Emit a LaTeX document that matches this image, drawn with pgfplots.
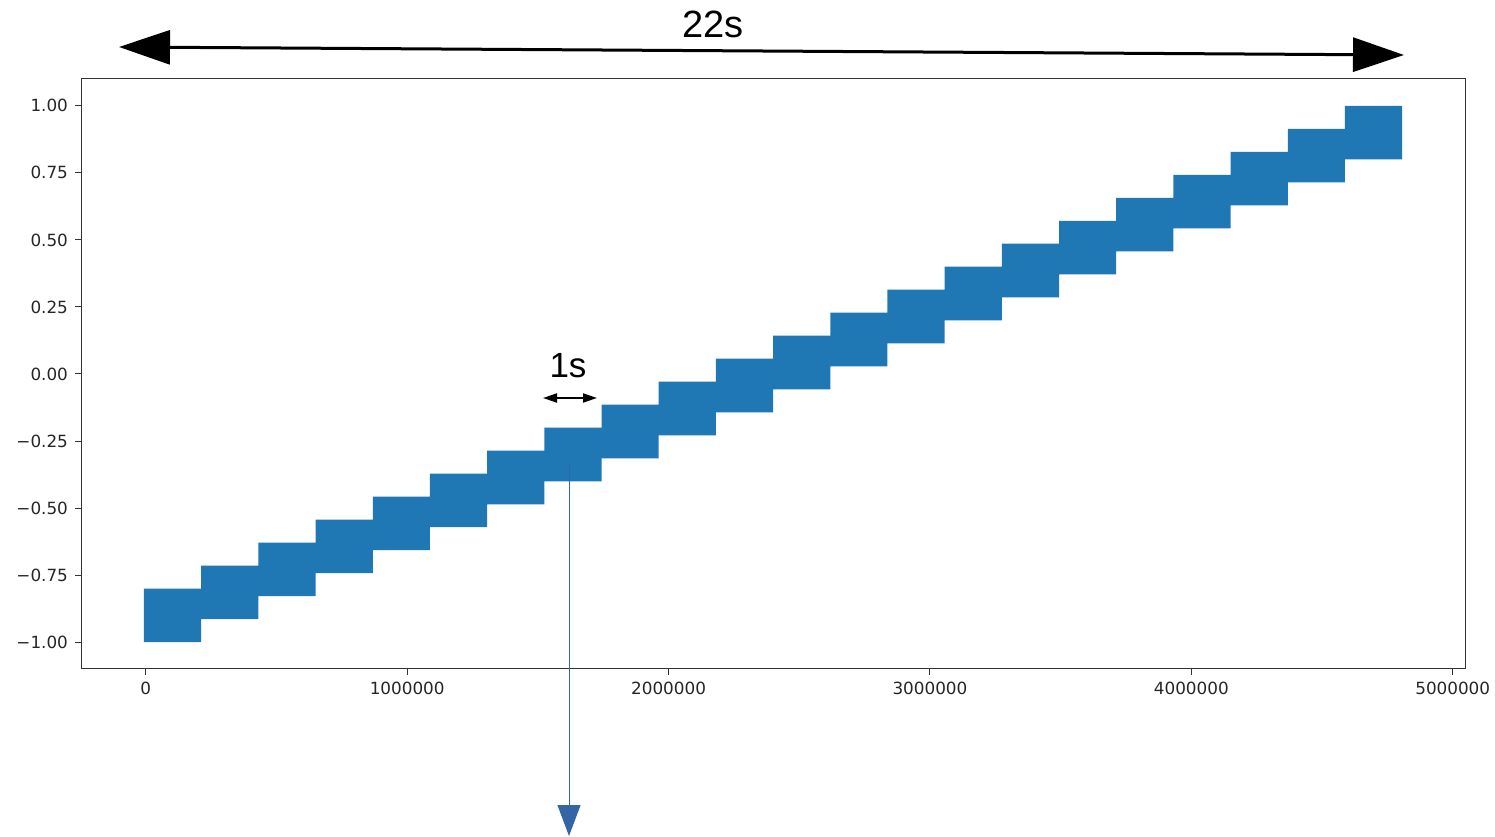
\documentclass[border=0pt]{standalone}
\usepackage{pgfplots}
\pgfplotsset{compat=1.18}
\usepackage{fontspec}
\setmainfont{DejaVu Sans}
\newfontfamily\arialf{Liberation Sans}
\usetikzlibrary{arrows.meta}
\definecolor{mplblue}{HTML}{1F77B4}
\definecolor{annblue}{RGB}{52,101,164}
\begin{document}
\begin{tikzpicture}
\useasboundingbox (0,0) rectangle (747.5pt,418pt);
\begin{axis}[
  at={(40.5pt,83.5pt)}, anchor=south west,
  scale only axis, width=692pt, height=295pt,
  xmin=-248000, xmax=5047000, ymin=-1.1, ymax=1.1,
  scaled x ticks=false,
  xtick={0,1000000,2000000,3000000,4000000,5000000},
  xticklabels={0,1000000,2000000,3000000,4000000,5000000},
  ytick={-1,-0.75,-0.5,-0.25,0,0.25,0.5,0.75,1},
  yticklabels={−1.00,−0.75,−0.50,−0.25,0.00,0.25,0.50,0.75,1.00},
  tick align=outside, tick pos=left,
  major tick length=3pt,
  every tick/.style={black!80, line width=0.5pt},
  axis line style={black!80, line width=0.5pt},
  ticklabel style={font=\fontsize{8.4}{10}\selectfont, text=black!85},
  xticklabel style={yshift=0pt},
  yticklabel style={xshift=0pt},
  clip=false,
]
\addplot[fill=mplblue, draw=none] coordinates {
(-7000,-0.8000) (211800,-0.8000)
(211800,-0.7143) (430600,-0.7143)
(430600,-0.6286) (649400,-0.6286)
(649400,-0.5429) (868200,-0.5429)
(868200,-0.4571) (1087000,-0.4571)
(1087000,-0.3714) (1305800,-0.3714)
(1305800,-0.2857) (1524600,-0.2857)
(1524600,-0.2000) (1743400,-0.2000)
(1743400,-0.1143) (1962200,-0.1143)
(1962200,-0.0286) (2181000,-0.0286)
(2181000,0.0571) (2399800,0.0571)
(2399800,0.1429) (2618600,0.1429)
(2618600,0.2286) (2837400,0.2286)
(2837400,0.3143) (3056200,0.3143)
(3056200,0.4000) (3275000,0.4000)
(3275000,0.4857) (3493800,0.4857)
(3493800,0.5714) (3712600,0.5714)
(3712600,0.6571) (3931400,0.6571)
(3931400,0.7429) (4150200,0.7429)
(4150200,0.8286) (4369000,0.8286)
(4369000,0.9143) (4587800,0.9143)
(4587800,1.0000) (4806600,1.0000)
(4806600,0.8000) (4587800,0.8000)
(4587800,0.7143) (4369000,0.7143)
(4369000,0.6286) (4150200,0.6286)
(4150200,0.5429) (3931400,0.5429)
(3931400,0.4571) (3712600,0.4571)
(3712600,0.3714) (3493800,0.3714)
(3493800,0.2857) (3275000,0.2857)
(3275000,0.2000) (3056200,0.2000)
(3056200,0.1143) (2837400,0.1143)
(2837400,0.0286) (2618600,0.0286)
(2618600,-0.0571) (2399800,-0.0571)
(2399800,-0.1429) (2181000,-0.1429)
(2181000,-0.2286) (1962200,-0.2286)
(1962200,-0.3143) (1743400,-0.3143)
(1743400,-0.4000) (1524600,-0.4000)
(1524600,-0.4857) (1305800,-0.4857)
(1305800,-0.5714) (1087000,-0.5714)
(1087000,-0.6571) (868200,-0.6571)
(868200,-0.7429) (649400,-0.7429)
(649400,-0.8286) (430600,-0.8286)
(430600,-0.9143) (211800,-0.9143)
(211800,-1.0000) (-7000,-1.0000)
} -- cycle;
\end{axis}
\begin{scope}[x=0.5pt,y=-0.5pt,yshift=418pt]
  \draw[black, line width=1.5pt, {Triangle[length=25.5pt,width=17pt]}-{Triangle[length=25.5pt,width=17pt]}] (119,47) -- (1404,55);
  \node[font=\arialf\fontsize{19}{22}\selectfont] at (713,24) {22s};
  \draw[black, line width=1pt, {Triangle[length=7pt,width=4.5pt]}-{Triangle[length=7pt,width=4.5pt]}] (543,398) -- (597,398);
  \node[font=\arialf\fontsize{17.5}{20}\selectfont] at (568,366) {1s};
  \draw[annblue, line width=0.5pt, -{Triangle[length=15.5pt,width=11.5pt]}] (569,462) -- (569,836);
\end{scope}
\end{tikzpicture}
\end{document}
